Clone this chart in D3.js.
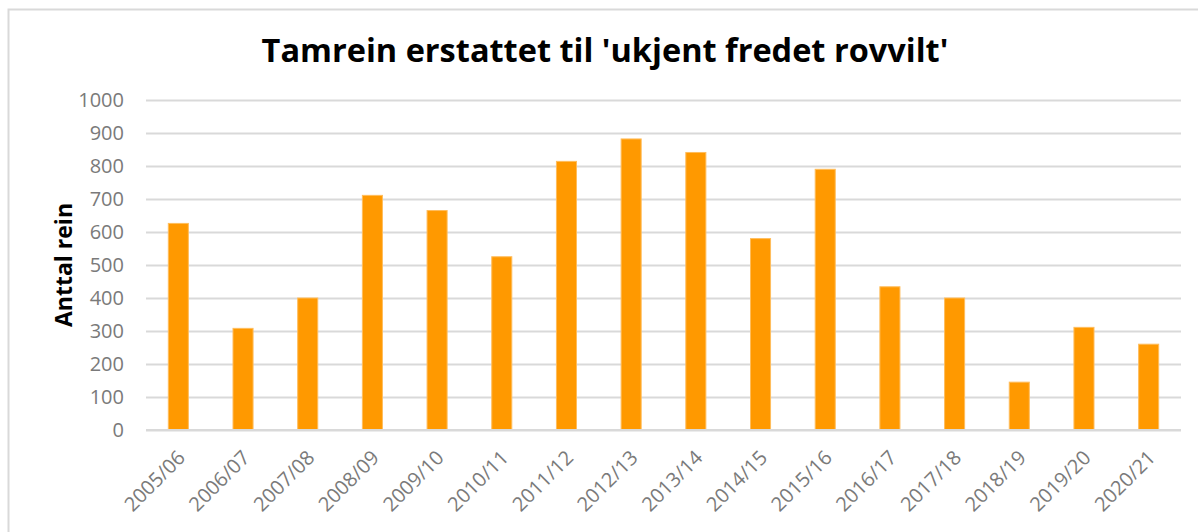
<!DOCTYPE html>
<html>
<head>
<meta charset="utf-8">
<script src="https://cdn.jsdelivr.net/npm/d3@7"></script>
<style>
  body { margin: 0; background: #fff; }
  svg { display: block; font-family: "Open Sans", sans-serif; }
</style>
</head>
<body>
<div id="chart"></div>
<script>
// Data
var seasons = ["2005/06", "2006/07", "2007/08", "2008/09", "2009/10", "2010/11", "2011/12", "2012/13",
  "2013/14", "2014/15", "2015/16", "2016/17", "2017/18", "2018/19", "2019/20", "2020/21"];
var reindeer = [626, 308, 400, 711, 665, 525, 814, 882, 841, 580, 790, 434, 400, 145, 311, 260];
var yTicks = [0, 100, 200, 300, 400, 500, 600, 700, 800, 900, 1000];

var svgWidth = 1198;
var svgHeight = 532;

var margin = { top: 100, right: 17, bottom: 102, left: 146 };
var chartWidth = svgWidth - margin.left - margin.right;
var chartHeight = svgHeight - margin.top - margin.bottom;

var svg = d3.select("#chart")
  .append("svg")
  .attr("width", svgWidth)
  .attr("height", svgHeight);

// chart frame
svg.append("rect")
  .attr("x", 8.5)
  .attr("y", 9.5)
  .attr("width", 1300)
  .attr("height", 600)
  .attr("fill", "none")
  .attr("stroke", "#d9d9d9")
  .attr("stroke-width", 2);

var chartGroup = svg.append("g")
  .attr("transform", `translate(${margin.left}, ${margin.top})`);

var xScale = d3.scaleBand()
  .domain(seasons)
  .range([0, chartWidth])
  .paddingInner(0.69)
  .paddingOuter(0.345);

var yScale = d3.scaleLinear()
  .domain([0, 1000])
  .range([chartHeight, 0]);

// gridlines + y labels
var leftAxis = d3.axisLeft(yScale)
  .tickValues(yTicks)
  .tickFormat(d3.format("d"))
  .tickSize(-chartWidth)
  .tickPadding(22);

var yAxis = chartGroup.append("g").call(leftAxis);
yAxis.select(".domain").remove();
yAxis.selectAll("line")
  .attr("stroke", "#d9d9d9")
  .attr("stroke-width", 2);
yAxis.selectAll("text")
  .attr("fill", "#7a7a7a")
  .attr("font-size", 20)
  .attr("font-family", "Open Sans, sans-serif");

// bars
chartGroup.selectAll("rect.bar")
  .data(reindeer)
  .enter()
  .append("rect")
  .attr("class", "bar")
  .attr("x", (d, i) => xScale(seasons[i]))
  .attr("y", d => yScale(d))
  .attr("width", xScale.bandwidth())
  .attr("height", d => chartHeight - yScale(d))
  .attr("fill", "#ff9900")
  .attr("stroke", "#ffbd5c")
  .attr("stroke-width", 1);

// x axis labels
var bottomAxis = d3.axisBottom(xScale).tickSize(0).tickPadding(0);
var xAxis = chartGroup.append("g")
  .attr("transform", `translate(0, ${chartHeight})`)
  .call(bottomAxis);
xAxis.select(".domain").remove();
xAxis.selectAll("text")
  .attr("fill", "#7a7a7a")
  .attr("font-size", 20)
  .attr("font-family", "Open Sans, sans-serif")
  .attr("text-anchor", "end")
  .attr("dy", 0)
  .attr("transform", "translate(8, 29) rotate(-45)");

// baseline
chartGroup.append("line")
  .attr("x1", 0)
  .attr("x2", chartWidth)
  .attr("y1", chartHeight)
  .attr("y2", chartHeight)
  .attr("stroke", "#d9d9d9")
  .attr("stroke-width", 2);

// title
svg.append("text")
  .attr("x", 605)
  .attr("y", 62)
  .attr("text-anchor", "middle")
  .attr("font-size", 32.5)
  .attr("font-weight", "bold")
  .attr("fill", "#000")
  .text("Tamrein erstattet til 'ukjent fredet rovvilt'");

// y axis title
svg.append("text")
  .attr("transform", "translate(72, 265) rotate(-90)")
  .attr("text-anchor", "middle")
  .attr("font-size", 23)
  .attr("font-weight", "bold")
  .attr("fill", "#000")
  .text("Anttal rein");
</script>
</body>
</html>
